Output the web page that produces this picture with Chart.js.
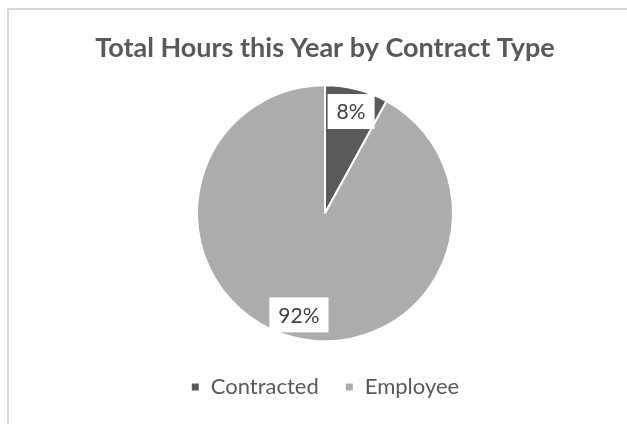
<!DOCTYPE html>
<html>
<head>
<meta charset="utf-8">
<script src="https://cdn.jsdelivr.net/npm/chart.js@4"></script>
<style>
  html, body { margin: 0; padding: 0; background: #fff; }
  #wrap { width: 627px; height: 424px; }
</style>
</head>
<body>
<div id="wrap"><canvas id="myChart" width="627" height="424"></canvas></div>
<script>
const categories = ['Contracted', 'Employee'];
const shares = [8, 92];
const labelsText = ['8%', '92%'];
const sliceColors = ['#5a5a5a', '#acacac'];

document.addEventListener("DOMContentLoaded", () => {
    const ctx = document.getElementById('myChart').getContext('2d');

    // thin grey frame on the top and left edge
    const frame = {
        id: 'frame',
        beforeDraw(chart) {
            const c = chart.ctx;
            c.save();
            c.fillStyle = '#d9d9d9';
            c.fillRect(7, 8, 620, 2);
            c.fillRect(7, 8, 2, 416);
            c.restore();
        }
    };

    // percentage labels in white boxes
    const boxLabels = {
        id: 'boxLabels',
        afterDatasetsDraw(chart) {
            const c = chart.ctx;
            const meta = chart.getDatasetMeta(0);
            c.save();
            c.font = '21px Lato, "Open Sans", sans-serif';
            c.textAlign = 'center';
            c.textBaseline = 'middle';
            meta.data.forEach((arc, i) => {
                const p = arc.getProps(['x', 'y', 'startAngle', 'endAngle', 'outerRadius'], true);
                const mid = (p.startAngle + p.endAngle) / 2;
                const r = p.outerRadius * 0.82;
                const x = p.x + Math.cos(mid) * r;
                const y = p.y + Math.sin(mid) * r;
                const w = c.measureText(labelsText[i]).width + 18;
                const h = 35;
                c.fillStyle = '#ffffff';
                c.fillRect(x - w / 2, y - h / 2, w, h);
                c.fillStyle = '#404040';
                c.fillText(labelsText[i], x, y + 1);
            });
            c.restore();
        }
    };

    new Chart(ctx, {
        type: 'pie',
        data: {
            labels: categories,
            datasets: [{
                data: shares,
                backgroundColor: sliceColors,
                borderColor: '#ffffff',
                borderWidth: 2,
                radius: 128
            }]
        },
        options: {
            responsive: false,
            animation: false,
            layout: { padding: { top: 32, bottom: 16, left: 23, right: 0 } },
            plugins: {
                title: {
                    display: true,
                    text: 'Total Hours this Year by Contract Type',
                    color: '#595959',
                    font: { family: 'Lato, "Open Sans", sans-serif', size: 27, weight: 'bold' },
                    padding: { top: 0, bottom: 12 }
                },
                legend: {
                    position: 'bottom',
                    labels: {
                        color: '#595959',
                        font: { family: 'Lato, "Open Sans", sans-serif', size: 22 },
                        usePointStyle: true,
                        pointStyle: 'rect',
                        boxWidth: 9,
                        boxHeight: 9,
                        padding: 26
                    }
                },
                tooltip: { enabled: false }
            }
        },
        plugins: [frame, boxLabels]
    });
});
</script>
</body>
</html>
